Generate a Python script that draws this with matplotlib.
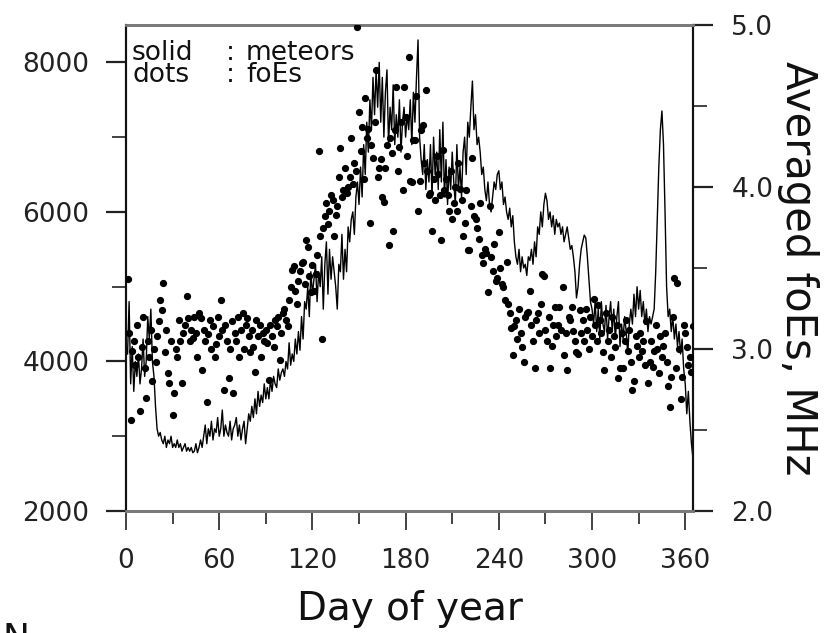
import numpy as np
import matplotlib
matplotlib.use("Agg")
import matplotlib.pyplot as plt
from matplotlib.ticker import FixedLocator, FormatStrFormatter

# Daily meteor counts (left axis), days 1..365
meteors = [
    4100, 4800, 3700, 4200, 3600, 4000, 3800, 4100, 3700, 3900,
    4300, 3800, 4000, 4600, 4300, 4700, 4000, 3800, 3400, 3100,
    3000, 3050, 2950, 2900, 3000, 2850, 2950, 2900, 3000, 2850,
    2900, 2850, 2950, 2850, 2900, 2800, 2850, 2900, 2800, 2850,
    2800, 2850, 2780, 2800, 2900, 2780, 2850, 2950, 2850, 3000,
    3150, 2900, 3100, 3000, 3200, 2950, 3100, 3050, 3250, 3000,
    3100, 3350, 3000, 3150, 3050, 3000, 3200, 2950, 3100, 3150,
    3250, 3000, 3150, 2950, 3100, 3200, 2900, 3100, 3300, 3200,
    3400, 3250, 3500, 3300, 3600, 3400, 3550, 3450, 3700, 3500,
    3650, 3500, 3750, 3600, 3800, 3700, 3650, 3900, 3750, 3850,
    3900, 3800, 4000, 3900, 4250, 3950, 4100, 4000, 4300, 4100,
    4400, 4150, 4600, 4300, 4800, 4700, 5000, 4600, 5200, 4900,
    5100, 5300, 4800, 5200, 5000, 5400, 4700, 5300, 5600, 4900,
    5500, 5100, 5400, 5200, 5000, 4700, 5300, 5200, 5700, 5100,
    5500, 5200, 5800, 5600, 5900, 6000, 5700, 6200, 6400, 6100,
    6600, 6200, 6900, 6500, 7200, 6800, 7500, 7100, 7800, 7300,
    7900, 7400, 8000, 7200, 7800, 7000, 7600, 7900, 6900, 7400,
    7100, 7700, 6900, 7300, 7000, 7500, 6800, 7200, 7400, 7000,
    7300, 7100, 7500, 6900, 7600, 7200, 7800, 8300, 7000, 6700,
    6500, 6900, 6300, 6700, 6400, 6900, 6200, 7000, 6500, 6800,
    6300, 7100, 6400, 7200, 6200, 6700, 6100, 6600, 6300, 6800,
    6400, 6100, 6900, 6300, 6600, 6200, 6800, 7000, 6500, 7200,
    7000, 7400, 7750, 7100, 7300, 6900, 7000, 6800, 6500, 6600,
    6300, 6150, 6400, 6100, 6000, 6200, 6400, 6300, 6500, 6550,
    6300, 6400, 6100, 6200, 6000, 5900, 6050, 5800, 5950, 5600,
    5400, 5300, 5500, 5200, 5400, 5250, 5300, 5150, 5400, 5350,
    5500, 5300, 5600, 5400, 5800, 5700, 6000, 5800, 6100, 6250,
    6150, 5900, 6000, 5800, 5950, 5700, 5900, 5800, 5850, 5700,
    5800, 5600, 5700, 5800, 5650, 5500, 5550, 5400, 5200, 4850,
    5000, 5300, 5500, 5600, 5690, 5650, 5400, 5100, 4800, 4700,
    4500, 4800, 4400, 4700, 4300, 4800, 4500, 4400, 4750, 4300,
    4600, 4800, 4400, 4700, 4300, 4600, 4800, 4200, 4500, 4300,
    4600, 4400, 4100, 4500, 4700, 4500, 4900, 4600, 5000, 4700,
    4950, 4600, 4800, 4500, 4700, 4400, 4600, 4500, 4600, 4700,
    5200, 5900, 6600, 7100, 7350, 6900, 6000, 5000, 4600, 4700,
    4400, 4600, 4300, 4500, 4200, 4400, 4100, 4300, 3900, 3700,
    3300, 3600, 3200, 2900, 2700,
]

# Daily averaged foEs in MHz (right axis), days 1..365
foes = [
    3.43, 3.10, 2.56, 2.99, 3.05, 2.90, 3.15, 2.95, 2.62, 3.01,
    3.20, 2.88, 2.70, 3.05, 2.95, 3.12, 2.80, 3.00, 2.92, 3.08,
    3.17, 3.30, 3.24, 3.41, 2.98, 3.12, 2.85, 2.79, 3.05, 2.59,
    2.73, 3.00, 2.95, 3.18, 3.05, 2.79, 3.10, 3.15, 3.33, 3.19,
    3.05, 3.12, 3.07, 3.20, 3.10, 2.95, 3.22, 3.19, 2.87, 3.12,
    3.05, 2.67, 3.09, 3.18, 3.00, 3.14, 2.95, 3.03, 3.20, 3.08,
    3.30, 3.12, 2.75, 3.15, 3.05, 2.82, 3.00, 3.17, 2.73, 3.10,
    3.05, 3.20, 2.95, 3.12, 3.22, 3.00, 3.15, 3.19, 3.08, 2.98,
    3.12, 3.01, 2.86, 3.18, 3.08, 3.15, 2.95, 3.10, 3.05, 3.12,
    3.04, 2.81, 3.15, 3.08, 3.01, 3.18, 3.14, 3.20, 2.93, 3.10,
    3.22, 3.25, 3.18, 3.14, 3.30, 3.38, 3.49, 3.51, 3.36, 3.28,
    3.42, 3.48, 3.53, 3.54, 3.40, 3.67, 3.63, 3.45, 3.35, 3.52,
    3.36, 3.46, 3.58, 4.22, 3.70, 3.06, 3.75, 3.82, 3.90, 3.77,
    3.85, 3.95, 3.92, 3.70, 3.83, 3.88, 4.06, 4.24, 3.94, 3.98,
    4.12, 3.96, 4.00, 4.06, 4.30, 4.02, 4.15, 4.10, 4.99, 4.46,
    4.22, 4.37, 4.05, 4.55, 4.30, 4.36, 3.78, 4.26, 4.18, 4.40,
    4.72, 4.06, 4.12, 4.17, 3.94, 3.91, 4.12, 4.26, 3.64, 4.30,
    4.21, 3.73, 4.35, 4.62, 4.10, 4.25, 4.40, 3.98, 4.62, 4.43,
    4.19, 4.80, 4.04, 4.03, 4.29, 4.29, 4.56, 3.85, 4.04, 4.35,
    4.38, 4.15, 4.60, 4.10, 3.95, 3.96, 3.73, 4.05, 3.92, 4.19,
    4.08, 3.95, 3.67, 4.23, 3.98, 4.05, 3.95, 3.85, 4.10, 3.80,
    3.90, 4.00, 3.85, 4.15, 3.99, 3.92, 3.70, 3.78, 3.98, 3.61,
    3.61, 3.88, 4.18, 3.82, 3.80, 3.75, 3.68, 3.90, 3.58, 3.53,
    3.62, 3.59, 3.35, 3.88, 3.57, 3.48, 3.65, 3.42, 3.44, 3.72,
    3.50, 3.40, 3.38, 3.30, 3.54, 3.28, 3.22, 3.13, 2.96, 3.14,
    3.18, 3.06, 3.25, 3.10, 3.01, 2.92, 3.20, 3.22, 3.23, 3.36,
    3.15, 3.05, 2.88, 3.18, 3.22, 3.10, 3.28, 3.46, 3.45, 3.12,
    3.05, 3.20, 2.88, 3.02, 3.15, 3.26, 3.08, 3.15, 3.26, 3.12,
    3.38, 2.96, 3.10, 2.87, 3.20, 3.18, 3.26, 3.11, 3.05, 2.98,
    2.97, 3.24, 3.10, 3.18, 3.05, 3.25, 3.12, 3.00, 3.20, 3.08,
    3.31, 3.15, 3.05, 3.27, 3.18, 3.10, 2.98, 2.87, 3.22, 3.05,
    3.12, 2.95, 3.20, 3.08, 3.01, 3.15, 2.82, 2.88, 3.10, 2.88,
    3.05, 3.18, 2.99, 3.12, 2.92, 2.75, 2.80, 3.08, 3.02, 2.95,
    3.10, 2.99, 3.05, 2.90, 3.17, 2.79, 2.92, 3.05, 2.89, 2.99,
    3.15, 3.00, 2.85, 3.08, 2.95, 3.02, 3.10, 2.92, 2.77, 2.64,
    2.83, 3.20, 3.44, 2.88, 3.41, 3.00, 2.69, 2.83, 3.15, 3.10,
    3.01, 2.90, 2.95, 2.86, 3.14,
]

days = np.arange(1, len(meteors) + 1)
foes_days = np.arange(1, len(foes) + 1)

x_major = [0, 60, 120, 180, 240, 300, 360]
x_minor = [30, 90, 150, 210, 270, 330]
left_major = [2000, 4000, 6000, 8000]
left_minor = [3000, 5000, 7000]
right_major = [2.0, 3.0, 4.0, 5.0]
right_minor = [2.5, 3.5, 4.5]

W, H = 834, 633
fig = plt.figure(figsize=(W / 100, H / 100), dpi=100)
plt.rcParams['font.family'] = ['DejaVu Sans']

def fx(px):
    return px / W

def fy(py):
    return 1 - py / H

ax = fig.add_axes([fx(126), fy(511), fx(693) - fx(126), fy(25) - fy(511)])
ax2 = ax.twinx()

ax.plot(days, meteors, color='black', lw=1.0, zorder=2)
ax2.plot(foes_days, foes, linestyle='none', marker='o', ms=4.2,
         color='black', mec='black', zorder=3)

ax.set_xlim(0, 365)
ax.set_ylim(2000, 8500)
ax2.set_ylim(2.0, 5.0)

ax.xaxis.set_major_locator(FixedLocator(x_major))
ax.xaxis.set_minor_locator(FixedLocator(x_minor))
ax.yaxis.set_major_locator(FixedLocator(left_major))
ax.yaxis.set_minor_locator(FixedLocator(left_minor))
ax2.yaxis.set_major_locator(FixedLocator(right_major))
ax2.yaxis.set_minor_locator(FixedLocator(right_minor))
ax2.yaxis.set_major_formatter(FormatStrFormatter('%.1f'))

tick_col = '#222222'
ax.tick_params(axis='x', which='major', direction='out', length=14, width=1.2,
               pad=13, labelsize=19, colors=tick_col)
ax.tick_params(axis='x', which='minor', direction='out', length=9, width=1.2,
               colors=tick_col)
ax.tick_params(axis='y', which='major', direction='out', length=14.5, width=1.6,
               pad=12, labelsize=19, colors=tick_col)
ax.tick_params(axis='y', which='minor', direction='out', length=10, width=1.2,
               colors=tick_col)
ax2.tick_params(axis='y', which='major', direction='out', length=14.5, width=1.6,
                pad=13, labelsize=19, colors=tick_col)
ax2.tick_params(axis='y', which='minor', direction='out', length=10, width=1.2,
                colors=tick_col)

for a in (ax, ax2):
    a.spines['top'].set_color('#7a7a7a')
    a.spines['top'].set_linewidth(2.0)
    a.spines['bottom'].set_color('#7a7a7a')
    a.spines['bottom'].set_linewidth(2.0)
    a.spines['left'].set_color('#111111')
    a.spines['left'].set_linewidth(1.5)
    a.spines['right'].set_color('#111111')
    a.spines['right'].set_linewidth(1.5)

ax.set_xlabel('Day of year', fontsize=28, labelpad=11, color='#111111')
ax2.set_ylabel('Averaged foEs, MHz', fontsize=30, rotation=270,
               labelpad=33, color='#111111')

# In-plot key, one text block per column
key_size = 19
key_kw = dict(fontsize=key_size, va='baseline', ha='left', color='#111111',
              linespacing=0.82)
fig.text(fx(132), fy(82), 'solid\ndots', **key_kw)
fig.text(fx(226), fy(82), ':\n:', **key_kw)
fig.text(fx(246), fy(82), 'meteors\nfoEs', **key_kw)

# Panel letter at lower left
fig.text(fx(2), fy(622), 'N', fontsize=26, va='top', ha='left', color='#111111')

fig.savefig('out.png', dpi=100)
